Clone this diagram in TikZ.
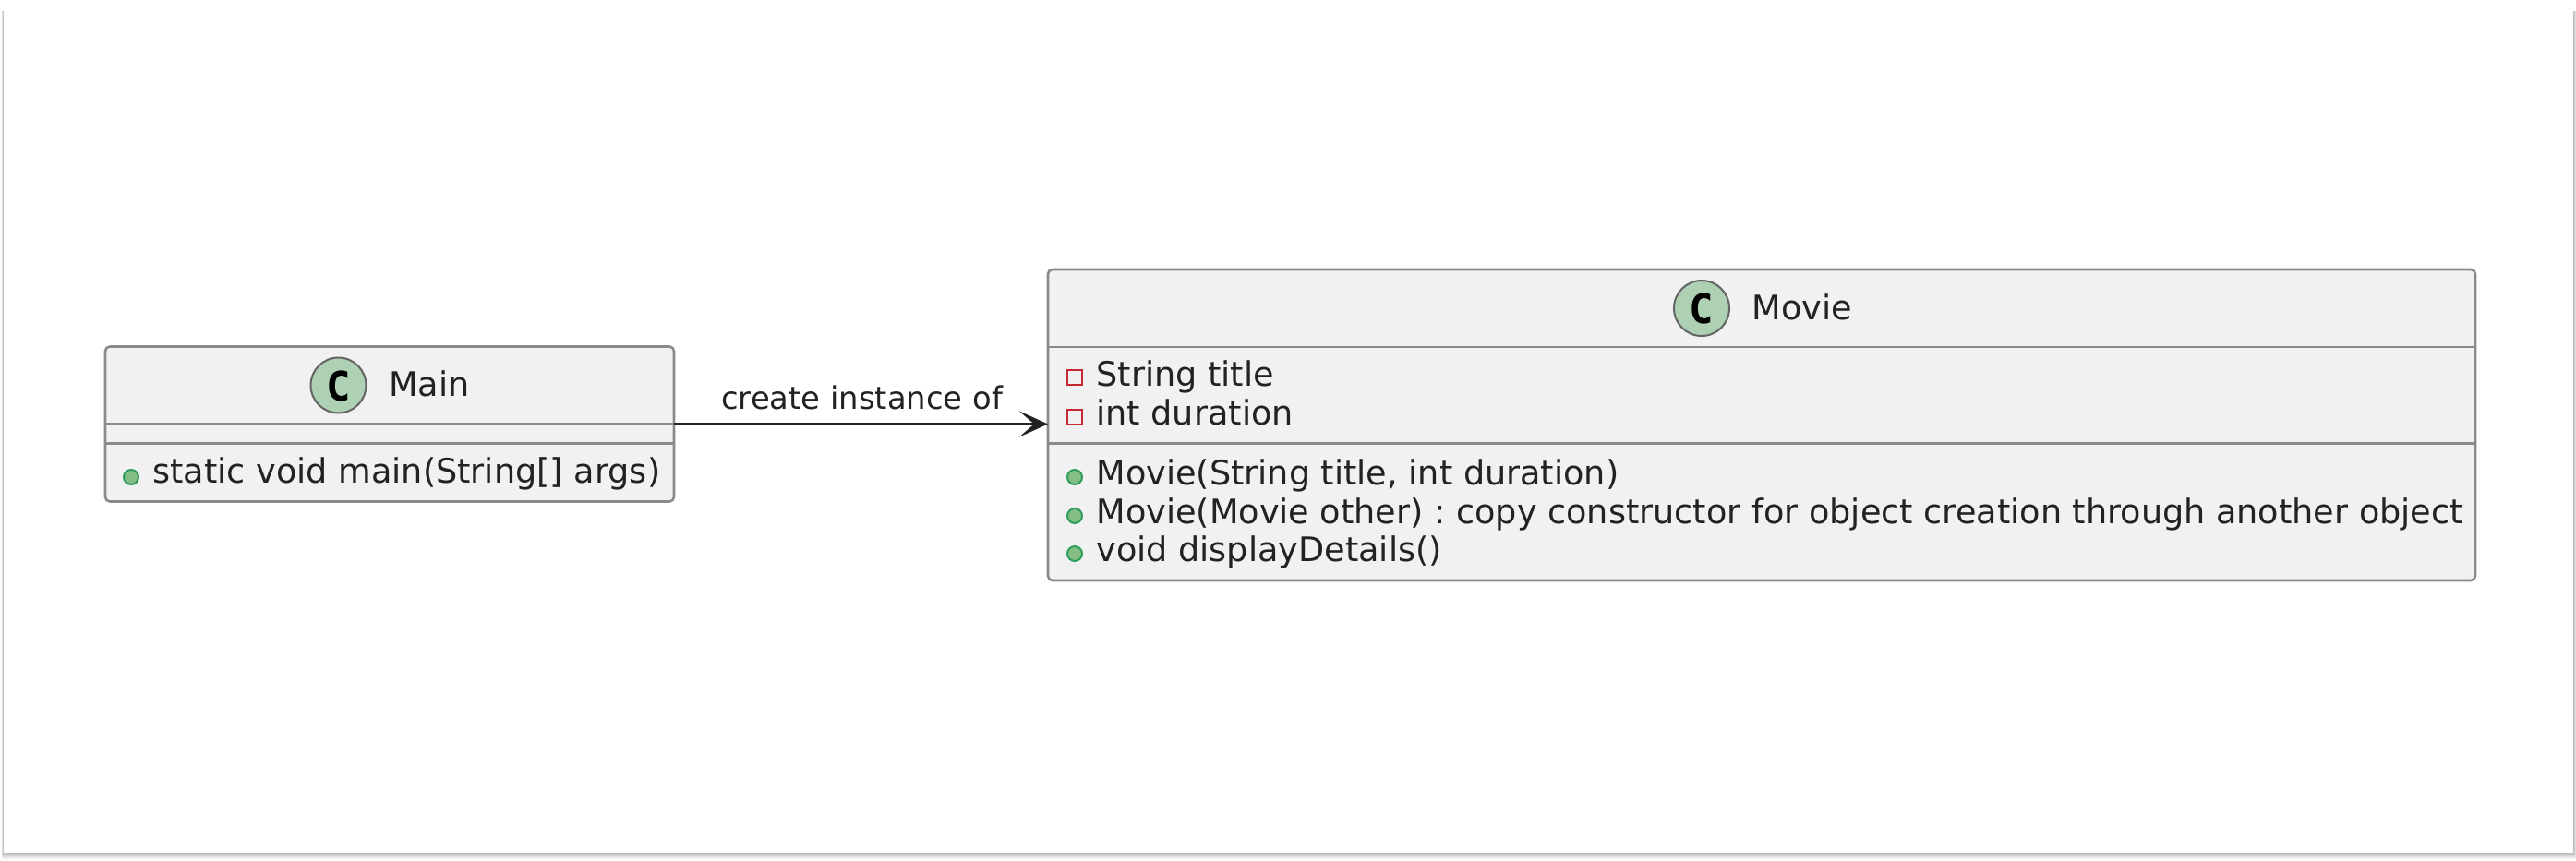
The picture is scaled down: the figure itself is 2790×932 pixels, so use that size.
\documentclass[tikz,border=0pt]{standalone}
\usepackage{fontspec}
\setmainfont{DejaVu Sans}
\newfontfamily\spotfont{DejaVu Sans Mono}[BoldFont={DejaVu Sans Mono Bold}]
\usetikzlibrary{arrows.meta}
\definecolor{boxfill}{HTML}{F1F1F1}
\definecolor{boxline}{HTML}{8A8A8A}
\definecolor{spotfill}{HTML}{ADD1B2}
\definecolor{inkcol}{HTML}{222222}
\definecolor{pubfill}{HTML}{84BE84}
\definecolor{publine}{HTML}{2E9E5E}
\definecolor{privline}{HTML}{C82930}
\tikzset{
  x=0.5pt,y=-0.5pt,
  classbox/.style={draw=boxline,fill=boxfill,line width=1.3pt,rounded corners=2.5pt,inner sep=0pt,outer sep=0pt,anchor=north west},
  divider/.style={draw=boxline,line width=1.3pt},
  spot/.style={circle,draw=inkcol!70,fill=spotfill,line width=1pt,minimum size=30pt,inner sep=0pt},
  spotletter/.style={font=\spotfont\bfseries\fontsize{22}{22}\selectfont,text=black,inner sep=0pt},
  titletext/.style={font=\frenchspacing\fontsize{18.3}{20}\selectfont,text=inkcol,inner sep=0pt,anchor=base west},
  membertext/.style={font=\frenchspacing\fontsize{18.3}{20}\selectfont,text=inkcol,inner sep=0pt,anchor=base west},
  edgetext/.style={font=\frenchspacing\fontsize{16.9}{20}\selectfont,text=inkcol,inner sep=0pt,anchor=base west},
  pubmark/.style={circle,draw=publine,fill=pubfill,line width=1pt,minimum size=8pt,inner sep=0pt},
  privmark/.style={rectangle,draw=privline,fill=none,line width=1pt,minimum size=8pt,inner sep=0pt},
  link/.style={draw=inkcol,line width=1.1pt,-{Stealth[length=15.5pt,width=14pt,inset=8pt]}},
}
\begin{document}
\begin{tikzpicture}
\useasboundingbox (0,0) rectangle (2790,932);
% page with soft shadow
\foreach \o/\g in {8/98,7/96,6/92,5/88,4/84,3/80,2/77,1/75}{
  \fill[black!\the\numexpr100-\g\relax] (4-\o*0.35,12) rectangle (2787+\o*0.5,924+\o);
}
\fill[white] (4,0) rectangle (2787,924);
% Main
\node[classbox,minimum width=308pt,minimum height=84pt] (mainbox) at (114,375.5) {};
\draw[divider] (114,459.5) -- (729.5,459.5);
\draw[divider] (114,480.5) -- (729.5,480.5);
\node[spot] (mainspot) at (366.5,417.5) {};
\node[spotletter] (mainletter) at (366.5,418) {C};
\node[titletext] (maintitle) at (421,429) {Main};
\node[pubmark] (mainm) at (142,517) {};
\node[membertext] (mainmt) at (165,523) {static void main(String[] args)};
% Movie
\node[classbox,minimum width=773pt,minimum height=168.5pt] (moviebox) at (1135,292) {};
\draw[divider] (1135,376) -- (2681,376);
\draw[divider] (1135,480.5) -- (2681,480.5);
\node[spot] (moviespot) at (1843,334) {};
\node[spotletter] (movieletter) at (1843,334.5) {C};
\node[titletext] (movietitle) at (1897,346) {Movie};
\node[privmark] (fa) at (1164,409) {};
\node[membertext] (fat) at (1187,418) {String title};
\node[privmark] (fb) at (1164,452) {};
\node[membertext] (fbt) at (1187,460) {int duration};
\node[pubmark] (ma) at (1164,517) {};
\node[membertext] (mat) at (1187,525) {Movie(String title, int duration)};
\node[pubmark] (mb) at (1164,559) {};
\node[membertext] (mbt) at (1187,567) {Movie(Movie other) : copy constructor for object creation through another object};
\node[pubmark] (mc) at (1164,600) {};
\node[membertext] (mct) at (1187,608) {void displayDetails()};
% Link
\draw[link] (mainbox.east) -- (moviebox.west |- mainbox.east);
\node[edgetext] (linklabel) at (781,443) {create instance of};
\end{tikzpicture}
\end{document}
